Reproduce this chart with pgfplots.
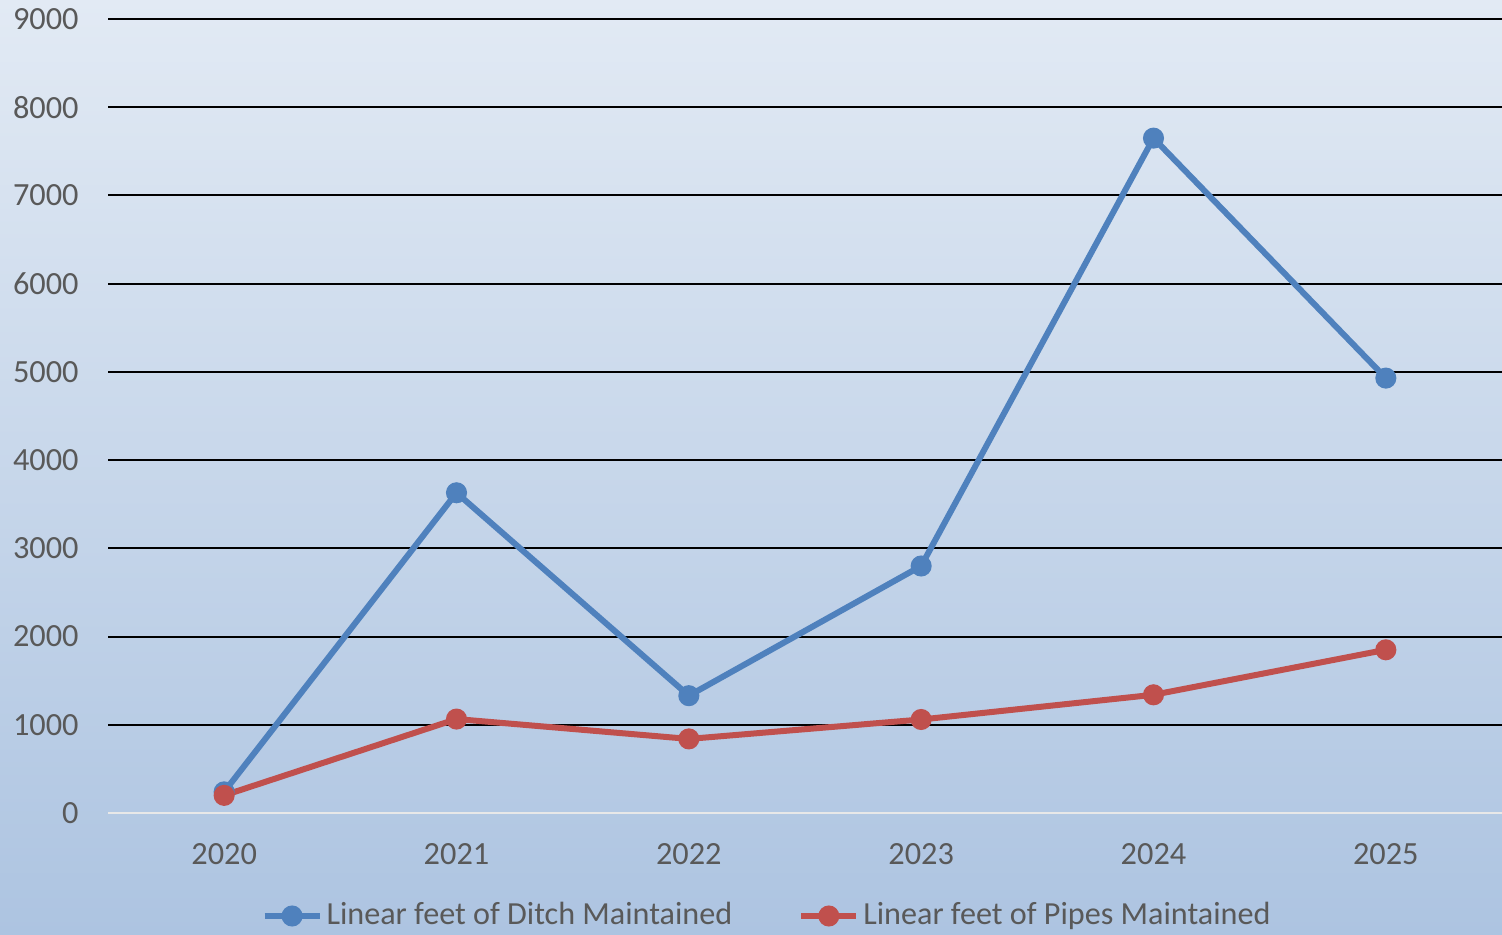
\documentclass[border=0pt]{standalone}
\usepackage{pgfplots}
\pgfplotsset{compat=1.18}
\usepackage{fontspec}
\setmainfont{Carlito}
\definecolor{ditch}{HTML}{4F81BD}
\definecolor{pipes}{HTML}{C0504D}
\definecolor{bgtop}{HTML}{E2EAF4}
\definecolor{bgbot}{HTML}{ADC4E1}
\definecolor{lbl}{HTML}{595959}
\begin{document}
\begin{tikzpicture}
\shade[top color=bgtop, bottom color=bgbot] (0,0) rectangle (15.02cm,9.34cm);
\useasboundingbox (0,0) rectangle (15.02cm,9.34cm);
\begin{axis}[
  at={(1.08cm,1.21cm)}, anchor=south west,
  scale only axis, width=13.94cm, height=7.94cm,
  xmin=-0.5, xmax=5.5, ymin=0, ymax=9000,
  xtick={0,...,5},
  xticklabels={2020,2021,2022,2023,2024,2025},
  ytick={1000,2000,...,9000},
  extra y ticks={0},
  extra y tick style={grid style={color=white!82!gray, line width=0.15mm}},
  ymajorgrids=true,
  grid style={black, line width=0.2mm},
  axis line style={draw=none},
  tick style={draw=none},
  /pgf/number format/assume math mode=true,
  /pgf/number format/set thousands separator={},
  ticklabel style={font=\fontsize{9.2}{11}\selectfont, text=lbl},
  yticklabel style={xshift=-1.7mm},
  xticklabel style={yshift=-1.8mm},
  legend columns=2,
  legend style={at={(0.4735,-0.1297)}, anchor=center, draw=none, fill=none,
    font=\fontsize{9.15}{11}\selectfont, text=lbl,
    nodes={inner xsep=0.4mm},
    /tikz/every even column/.append style={column sep=6.2mm}},
  legend image code/.code={
    \draw[#1, mark=none] (0cm,0cm) -- (0.55cm,0cm);
    \fill[#1] (0.275cm,0cm) circle (0.75mm);
  },
]
\addplot[color=ditch, line width=0.6mm, mark=*, mark size=0.75mm, mark options={solid}]
coordinates {(0,240)(1,3630)(2,1330)(3,2800)(4,7650)(5,4930)};
\addplot[color=pipes, line width=0.6mm, mark=*, mark size=0.75mm, mark options={solid}]
coordinates {(0,200)(1,1065)(2,840)(3,1060)(4,1340)(5,1850)};
\legend{Linear feet of Ditch Maintained, Linear feet of Pipes Maintained}
\end{axis}
\end{tikzpicture}
\end{document}
